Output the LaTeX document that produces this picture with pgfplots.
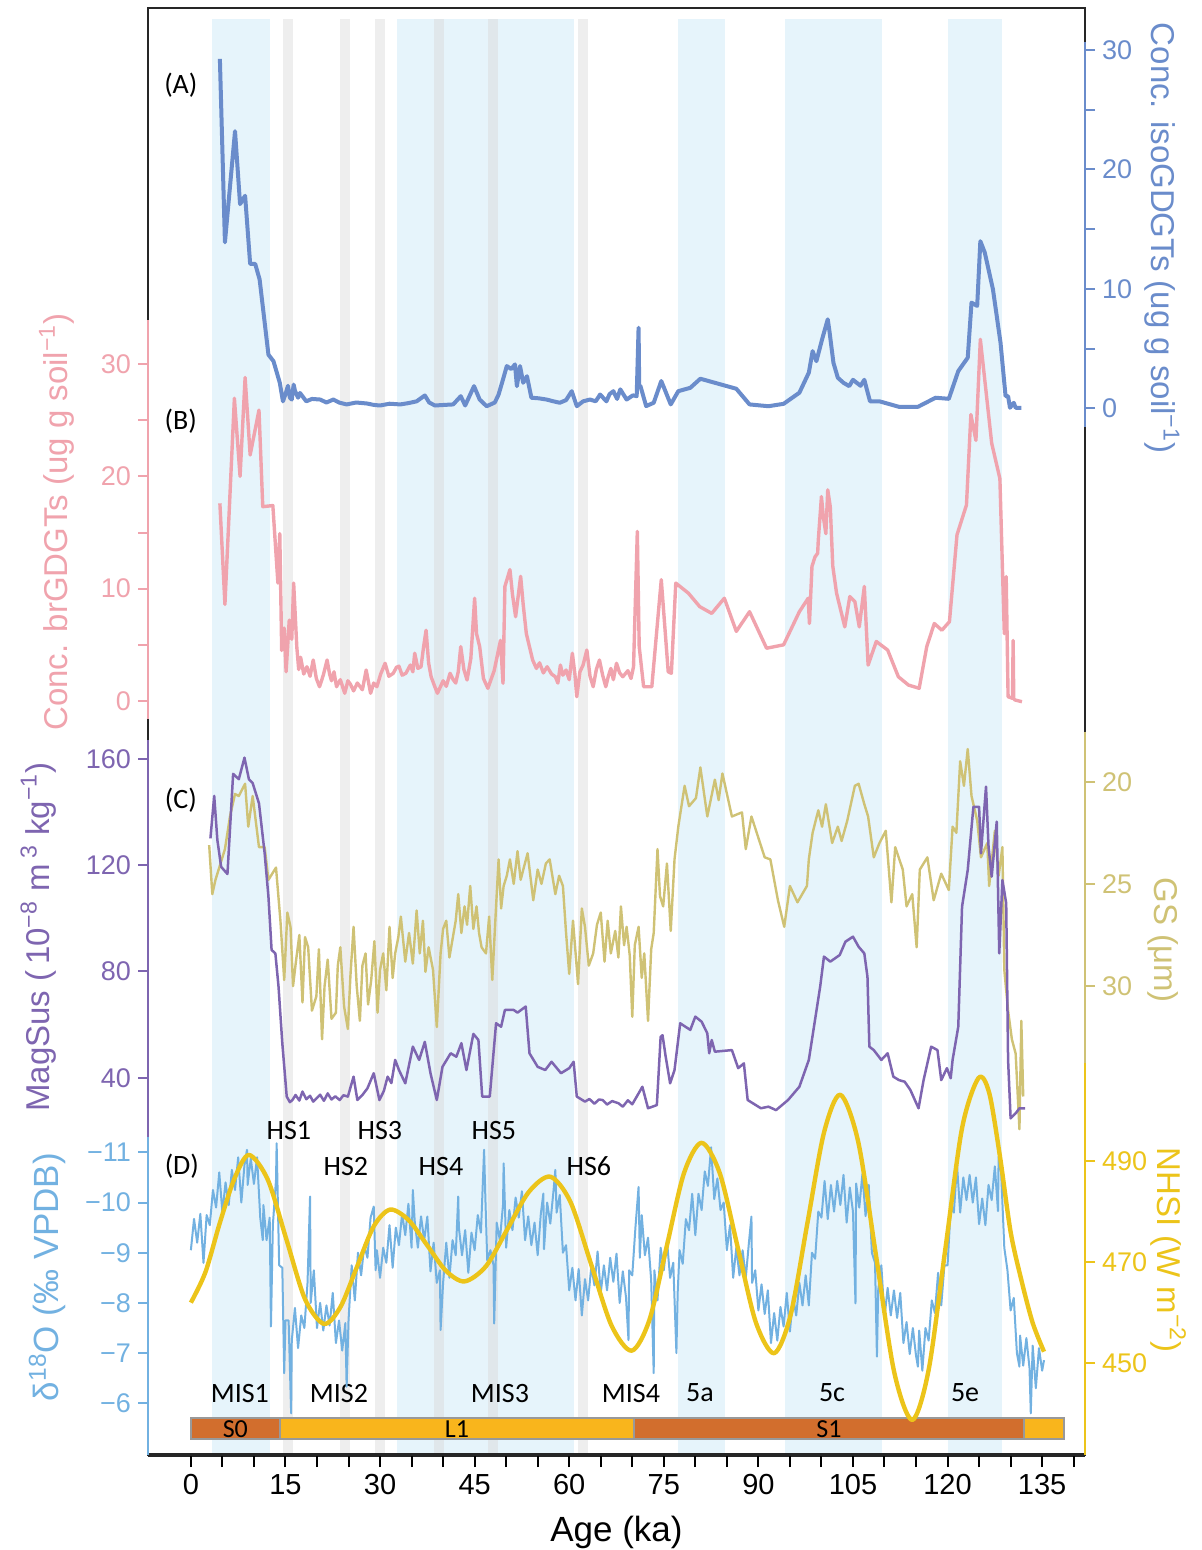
\documentclass[border=0pt]{standalone}
\usepackage{fontspec}
\setmainfont{Liberation Sans}
\newfontfamily\annfont{Carlito}
\usepackage{pgfplots}
\pgfplotsset{compat=1.18}
\definecolor{isoC}{HTML}{6A8CCB}
\definecolor{brC}{HTML}{F0A3AD}
\definecolor{msC}{HTML}{7E65B0}
\definecolor{gsC}{HTML}{CFC275}
\definecolor{dC}{HTML}{72B1E1}
\definecolor{nhC}{HTML}{ECC41A}
\definecolor{bandB}{HTML}{E6F4FB}
\definecolor{bandG}{HTML}{D9D9D9}
\definecolor{soilC}{HTML}{D26E2D}
\definecolor{loessC}{HTML}{F9B51C}
\pgfplotsset{
  dax/.style={scale only axis, width=468.5pt, xmin=-6.8, xmax=141.8, clip=false,
    axis x line=none, tick align=outside, major tick length=5pt, minor tick length=5pt,
    /pgf/number format/assume math mode=true,
    yticklabel style={font=\fontsize{13.5}{14}\selectfont},
    every axis plot/.append style={line join=round}},
  dcol/.style={y axis line style={#1, line width=1pt}, every tick/.style={#1, line width=1pt},
    yticklabel style={text=#1}},
}
\newcommand{\lab}{\fontsize{16.5}{18}\selectfont}
\newcommand{\ann}{\annfont\fontsize{14}{16}\selectfont}
\begin{document}
\begin{tikzpicture}
\useasboundingbox (0,0) rectangle (600.5pt,-775pt);
% ---------------- background axis: bands, frame, age axis ----------------
\begin{axis}[scale only axis, width=468.5pt, height=723.5pt,
  at={(74pt,-727.5pt)}, anchor=south west,
  xmin=-6.8, xmax=141.8, ymin=-1455, ymax=-8, clip=false, axis on top,
  axis line style={line width=1pt, black!85},
  xtick={0,15,...,135},
  minor xtick={5,10,20,25,35,40,50,55,65,70,80,85,95,100,110,115,125,130,140},
  xtick pos=bottom, ytick=\empty, tick align=outside,
  major tick length=6pt, minor tick length=6pt,
  every tick/.style={black, line width=1pt},
  /pgf/number format/assume math mode=true,
  xticklabel style={font=\fontsize{14.5}{15}\selectfont},
  xlabel={Age (ka)}, xlabel style={font=\fontsize{17.5}{19}\selectfont, yshift=-4pt}]
% blue bands
\fill[bandB] (axis cs:3.28,-1455) rectangle (axis cs:12.53,-19);
\fill[bandB] (axis cs:32.63,-1455) rectangle (axis cs:60.80,-19);
\fill[bandB] (axis cs:77.33,-1455) rectangle (axis cs:84.69,-19);
\fill[bandB] (axis cs:94.18,-1455) rectangle (axis cs:109.55,-19);
\fill[bandB] (axis cs:120.07,-1455) rectangle (axis cs:128.70,-19);
% grey bands
\fill[bandG, fill opacity=0.45] (axis cs:14.64,-1455) rectangle (axis cs:16.13,-19);
\fill[bandG, fill opacity=0.45] (axis cs:23.64,-1455) rectangle (axis cs:25.22,-19);
\fill[bandG, fill opacity=0.45] (axis cs:29.19,-1455) rectangle (axis cs:30.77,-19);
\fill[bandG, fill opacity=0.45] (axis cs:38.55,-1455) rectangle (axis cs:40.18,-19);
\fill[bandG, fill opacity=0.45] (axis cs:47.07,-1455) rectangle (axis cs:48.65,-19);
\fill[bandG, fill opacity=0.45] (axis cs:61.44,-1455) rectangle (axis cs:63.02,-19);
% stratigraphic bar
\filldraw[fill=soilC, draw=gray!80, line width=1pt] (axis cs:0,-1439.3) rectangle (axis cs:14.1,-1418.3);
\filldraw[fill=loessC, draw=gray!80, line width=1pt] (axis cs:14.1,-1439.3) rectangle (axis cs:70.2,-1418.3);
\filldraw[fill=soilC, draw=gray!80, line width=1pt] (axis cs:70.2,-1439.3) rectangle (axis cs:132.2,-1418.3);
\filldraw[fill=loessC, draw=gray!80, line width=1pt] (axis cs:132.2,-1439.3) rectangle (axis cs:138.5,-1418.3);
\node[font=\annfont\fontsize{13}{14}\selectfont] at (axis cs:7.05,-1429) {S0};
\node[font=\annfont\fontsize{13}{14}\selectfont] at (axis cs:42.2,-1429) {L1};
\node[font=\annfont\fontsize{13}{14}\selectfont] at (axis cs:101.2,-1429) {S1};
% panel letters
\node[font=\ann] at (axis cs:-1.59,-85) {(A)};
\node[font=\ann] at (axis cs:-1.59,-421) {(B)};
\node[font=\ann] at (axis cs:-1.59,-800) {(C)};
\node[font=\ann] at (axis cs:-1.43,-1166) {(D)};
% HS labels
\node[font=\ann] at (axis cs:15.55,-1130) {HS1};
\node[font=\ann] at (axis cs:29.98,-1130) {HS3};
\node[font=\ann] at (axis cs:48.06,-1130) {HS5};
\node[font=\ann] at (axis cs:24.59,-1166) {HS2};
\node[font=\ann] at (axis cs:39.66,-1166) {HS4};
\node[font=\ann] at (axis cs:63.13,-1166) {HS6};
% MIS labels
\node[font=\ann] at (axis cs:7.77,-1393) {MIS1};
\node[font=\ann] at (axis cs:23.48,-1393) {MIS2};
\node[font=\ann] at (axis cs:49.02,-1393) {MIS3};
\node[font=\ann] at (axis cs:69.8,-1393) {MIS4};
\node[font=\ann] at (axis cs:80.74,-1393) {5a};
\node[font=\ann] at (axis cs:101.68,-1393) {5c};
\node[font=\ann] at (axis cs:122.78,-1393) {5e};
% axis titles
\node[rotate=90, font=\lab, text=brC] at (axis cs:-21.3,-522) {Conc. brGDGTs (ug g soil\textsuperscript{−1})};
\node[rotate=90, font=\lab, text=msC] at (axis cs:-24.2,-937) {MagSus (\,10\textsuperscript{−8} m\,\textsuperscript{3} kg\textsuperscript{−1})};
\node[rotate=90, font=\fontsize{17.5}{19}\selectfont, text=dC] at (axis cs:-22.8,-1277) {δ\textsuperscript{18}O (‰ VPDB)};
\node[rotate=-90, font=\lab, text=isoC] at (axis cs:154.0,-238) {Conc. isoGDGTs (ug g soil\textsuperscript{−1})};
\node[rotate=-90, font=\lab, text=gsC] at (axis cs:154.2,-940) {GS (μm)};
\node[rotate=-90, font=\lab, text=nhC] at (axis cs:155.0,-1250) {NHSI (W m\textsuperscript{−2})};
\draw[line width=1.6pt, black!85] (rel axis cs:0,0) -- (rel axis cs:1,0);
\end{axis}
% ---------------- (A) isoGDGTs ----------------
\begin{axis}[dax, dcol=isoC, height=192.5pt, at={(74pt,-213.35pt)}, anchor=south west,
  axis y line*=right, ymin=-1.523, ymax=30.69,
  ytick={0,10,20,30}, minor ytick={5,15,25}]
\addplot[isoC, line width=2pt] coordinates {
(4.6,29.25)(5.4,13.9)(7.0,23.2)(7.8,17.1)(8.6,17.8)(9.4,12.1)(10.2,12.1)(10.9,10.8)(12.3,4.5)(13.1,3.96)(14.1,2.15)(14.6,0.6)(15.0,1.2)(15.4,1.9)(15.7,0.9)(16.0,0.75)(16.3,2.0)(16.5,1.5)(17.0,0.9)(17.3,1.3)(18.3,0.6)(19.2,0.8)(20.5,0.75)(21.5,0.5)(22.6,0.75)(23.5,0.5)(24.7,0.34)(26.2,0.5)(27.9,0.42)(29.0,0.3)(30.0,0.25)(31.5,0.4)(33.2,0.34)(34.5,0.45)(35.8,0.6)(37.1,1.09)(37.8,0.5)(38.7,0.25)(40.2,0.3)(41.6,0.34)(42.8,1.03)(43.5,0.25)(44.9,1.87)(45.8,0.75)(46.9,0.19)(48.2,0.5)(48.8,1.17)(49.5,2.43)(50.1,3.55)(50.8,3.3)(51.4,3.69)(51.7,1.87)(52.2,3.55)(52.7,2.15)(53.3,2.7)(54.0,0.9)(55.2,0.85)(56.4,0.75)(57.5,0.6)(58.5,0.48)(59.5,0.7)(60.4,1.45)(61.2,0.19)(62.2,0.6)(63.3,0.75)(64.2,0.6)(64.9,1.17)(65.9,0.6)(66.4,1.2)(67.0,1.45)(67.6,0.8)(68.1,1.6)(69.1,0.75)(70.1,1.1)(70.7,1.03)(71.0,6.76)(71.1,1.8)(71.3,1.87)(72.2,0.2)(73.4,0.48)(74.6,2.3)(76.1,0.34)(77.3,1.45)(79.2,1.73)(80.8,2.49)(86.5,1.65)(88.6,0.34)(91.6,0.19)(94.0,0.39)(96.5,1.32)(98.0,3.0)(98.6,4.8)(99.2,3.96)(100.1,5.78)(101.0,7.46)(101.3,6.35)(101.9,3.83)(102.6,2.57)(103.5,2.15)(104.4,1.87)(105.0,2.4)(106.2,1.9)(106.8,2.4)(107.7,0.6)(109.2,0.6)(112.3,0.14)(115.3,0.14)(118.1,0.9)(120.2,0.81)(121.7,3.13)(123.2,4.25)(123.8,8.86)(124.7,8.58)(125.2,14.0)(125.9,13.05)(127.2,9.97)(128.4,5.5)(129.2,1.03)(129.6,1.03)(129.9,0.06)(130.5,0.48)(130.8,0.06)(131.7,0.06)};
\end{axis}
% ---------------- (B) brGDGTs ----------------
\begin{axis}[dax, dcol=brC, height=199.5pt, at={(74pt,-359.5pt)}, anchor=south west,
  axis y line*=left, ymin=-1.602, ymax=33.92,
  ytick={0,10,20,30}, minor ytick={5,15,25}]
\addplot[brC, line width=1.7pt] coordinates {
(4.6,17.6)(5.4,8.6)(6.9,26.95)(7.8,20.0)(8.6,28.8)(9.4,21.9)(10.8,25.9)(11.4,17.3)(13.0,17.4)(13.8,10.5)(14.1,14.9)(14.4,4.5)(14.8,6.5)(15.1,2.6)(15.6,7.2)(16.0,5.5)(16.3,10.5)(16.8,4.8)(17.1,2.8)(17.4,3.9)(17.9,2.4)(18.4,3.05)(18.9,2.2)(19.4,3.65)(19.9,2.0)(20.4,1.27)(21.0,2.3)(21.6,3.65)(22.0,2.4)(22.3,1.8)(22.7,2.6)(23.1,1.27)(23.7,1.9)(24.4,0.69)(24.9,1.8)(25.3,1.5)(25.8,0.9)(26.4,1.6)(27.2,1.0)(27.8,2.76)(28.5,0.69)(29.0,1.6)(29.5,1.27)(30.1,2.4)(30.8,3.36)(31.4,2.2)(32.1,2.47)(32.6,3.0)(33.0,3.1)(33.5,2.3)(34.1,2.47)(34.8,3.2)(35.2,2.6)(35.5,4.25)(36.0,2.9)(36.5,3.05)(36.9,4.8)(37.3,6.3)(37.7,3.4)(38.1,2.16)(38.6,1.4)(39.1,0.69)(39.6,1.3)(40.0,1.8)(40.5,1.3)(41.1,2.47)(41.6,1.9)(42.0,1.6)(42.4,2.6)(42.8,4.84)(43.3,2.8)(43.8,1.87)(44.4,3.8)(45.0,9.15)(45.3,6.0)(45.8,4.84)(46.4,2.0)(47.1,1.13)(48.1,2.7)(49.1,5.4)(49.5,1.58)(49.8,10.2)(50.6,11.7)(51.0,9.5)(51.5,7.5)(52.3,11.1)(52.7,8.6)(53.2,6.0)(54.2,3.65)(54.8,2.9)(55.3,3.4)(55.9,2.5)(56.5,3.05)(57.2,2.4)(57.8,2.16)(58.2,1.6)(58.6,3.2)(59.0,2.3)(59.5,2.76)(60.0,1.9)(60.5,4.25)(60.9,2.4)(61.2,0.38)(61.7,2.6)(62.2,3.2)(62.8,4.54)(63.3,2.2)(63.8,1.27)(64.3,2.8)(64.8,3.65)(65.3,2.3)(65.8,1.27)(66.2,2.2)(66.6,2.9)(67.0,1.9)(67.5,3.36)(68.0,2.5)(68.5,2.16)(69.3,2.7)(69.8,2.0)(70.2,3.05)(70.8,15.1)(71.1,4.84)(71.8,1.27)(73.1,1.27)(74.6,10.8)(75.7,2.6)(76.2,2.47)(76.9,10.5)(78.9,9.6)(80.7,8.4)(82.6,7.8)(84.6,9.15)(86.5,6.2)(88.6,7.95)(91.3,4.7)(94.0,5.0)(96.5,7.95)(97.9,9.15)(98.1,6.9)(98.5,12.0)(99.0,12.85)(99.4,13.15)(99.5,14.3)(100.0,18.2)(100.3,16.4)(100.7,14.9)(101.0,18.8)(101.4,17.3)(101.8,12.0)(102.4,9.6)(103.7,6.6)(104.5,9.3)(105.3,8.85)(106.0,6.6)(106.8,10.2)(107.4,3.2)(108.7,5.3)(110.5,4.54)(112.2,2.16)(113.8,1.42)(115.5,1.13)(116.7,4.84)(117.9,6.9)(119.1,6.3)(120.3,7.06)(121.5,14.8)(123.0,17.45)(123.7,25.5)(124.5,23.2)(125.2,32.2)(127.0,22.95)(128.3,19.8)(129.0,6.0)(129.3,11.07)(129.6,0.38)(130.3,0.24)(130.4,5.4)(130.5,0.2)(130.7,0.09)(131.8,-0.06)};
\end{axis}
% ---------------- (C) GS ----------------
\begin{axis}[dax, dcol=gsC, height=165.65pt, at={(74pt,-531.5pt)}, anchor=south west,
  axis y line*=right, y dir=reverse, ymin=17.554, ymax=33.762,
  ytick={20,25,30,35}]
\addplot[gsC, line width=1.2pt] coordinates {
(2.9,23.1)(3.4,25.5)(3.9,24.8)(4.5,24.2)(5.4,23.3)(6.2,21.7)(7.0,20.6)(7.6,20.7)(8.6,20.1)(9.1,22.2)(9.8,20.7)(10.8,23.2)(11.7,23.2)(12.3,24.8)(13.5,24.2)(14.2,26.8)(14.8,29.7)(15.3,26.4)(15.8,27.1)(16.2,30.0)(16.7,28.7)(17.2,27.5)(17.7,30.8)(18.1,27.6)(18.6,28.1)(19.2,31.2)(19.9,30.5)(20.3,28.2)(20.8,32.6)(21.2,30.0)(21.7,28.7)(22.3,31.6)(23.0,31.3)(23.3,29.0)(23.7,28.1)(24.3,31.0)(24.9,32.1)(25.3,29.5)(25.8,27.1)(26.3,30.0)(26.8,31.7)(27.2,29.0)(27.7,28.4)(28.1,30.9)(28.6,29.7)(29.1,27.8)(29.6,31.3)(30.0,29.2)(30.5,28.4)(31.0,30.2)(31.5,27.1)(32.0,29.6)(32.4,28.4)(32.9,27.6)(33.3,26.6)(34.0,28.8)(34.6,27.4)(35.2,28.9)(35.8,26.3)(36.3,28.4)(36.8,26.8)(37.2,29.3)(37.7,28.1)(38.4,29.2)(39.0,32.0)(39.6,28.4)(40.0,27.2)(40.5,26.8)(41.0,28.6)(41.5,27.7)(42.0,26.8)(42.4,25.5)(42.9,27.4)(43.4,26.1)(43.8,27.0)(44.3,25.1)(44.8,27.2)(45.3,26.1)(45.7,27.4)(46.1,28.1)(46.8,28.4)(47.3,26.6)(47.8,29.7)(48.4,26.1)(48.8,23.8)(49.2,26.2)(49.6,25.1)(50.1,24.6)(50.6,23.8)(51.2,25.0)(51.8,23.4)(52.3,24.8)(52.8,24.2)(53.4,23.5)(54.3,25.8)(55.0,24.3)(55.6,25.0)(56.3,24.0)(56.9,23.8)(57.8,25.5)(58.4,24.6)(59.0,25.1)(59.5,27.4)(60.0,29.4)(60.6,26.8)(61.4,29.9)(62.0,26.2)(62.5,27.1)(63.1,29.0)(63.8,28.4)(64.4,27.0)(65.0,26.4)(65.6,28.8)(66.1,26.8)(66.6,28.4)(67.3,27.3)(67.8,28.6)(68.2,26.1)(68.7,28.0)(69.1,27.1)(69.6,28.5)(70.0,31.5)(70.4,28.0)(71.0,27.1)(71.5,29.6)(71.9,28.4)(72.5,31.7)(73.0,28.2)(73.4,27.4)(74.0,23.3)(74.4,25.6)(74.9,26.1)(75.5,24.0)(76.1,27.3)(76.7,23.8)(77.3,22.2)(78.3,20.2)(79.0,21.2)(80.1,20.8)(80.8,19.3)(81.9,21.7)(83.1,19.9)(83.7,20.9)(84.3,19.6)(85.8,21.7)(87.4,21.5)(88.0,23.3)(88.9,21.7)(91.0,23.7)(91.9,23.8)(93.1,25.8)(94.1,27.1)(95.0,25.1)(96.2,25.9)(97.7,25.1)(98.0,23.8)(98.6,22.5)(99.5,21.4)(100.1,22.2)(100.7,21.1)(101.7,23.0)(102.6,22.2)(103.2,22.9)(104.1,21.9)(105.3,20.2)(105.9,20.1)(106.8,21.1)(107.4,21.7)(108.3,23.7)(109.2,23.0)(110.2,22.4)(111.1,25.9)(111.7,23.2)(112.9,24.3)(113.5,26.1)(114.4,25.5)(115.1,28.1)(115.6,24.3)(116.8,23.7)(117.8,25.8)(119.0,24.5)(120.2,25.3)(120.8,22.2)(121.4,22.5)(122.0,19.0)(122.6,20.2)(123.2,18.4)(123.8,20.7)(124.7,21.9)(125.3,23.7)(126.3,23.0)(126.6,25.1)(127.5,22.4)(128.1,24.6)(128.7,23.2)(129.0,29.2)(129.6,31.2)(130.2,32.6)(130.8,33.3)(131.4,37.0)(131.7,31.7)(132.0,35.4)};
\end{axis}
% ---------------- (C) MagSus ----------------
\begin{axis}[dax, dcol=msC, height=198.35pt, at={(74pt,-568.35pt)}, anchor=south west,
  axis y line*=left, ymin=17.79, ymax=167.15,
  ytick={40,80,120,160}]
\addplot[msC, line width=1.25pt] coordinates {
(3.1,130.1)(3.7,146.1)(4.2,129.5)(4.8,119.4)(5.8,116.7)(6.7,154.4)(7.6,152.4)(8.5,160.5)(9.2,152.4)(9.8,150.9)(10.8,143.3)(11.7,124.5)(12.3,108.2)(12.8,88.1)(13.4,86.8)(13.9,74.3)(14.5,53.0)(15.2,32.9)(15.7,30.8)(16.1,31.6)(16.6,33.5)(17.2,31.4)(17.7,34.8)(18.3,31.9)(18.9,33.2)(19.4,31.0)(19.9,32.2)(20.5,33.6)(21.1,31.3)(21.7,34.1)(22.3,31.8)(22.9,33.0)(23.6,31.6)(24.2,33.4)(24.9,32.9)(25.8,40.4)(26.4,31.6)(27.2,33.5)(28.0,36.0)(29.0,41.7)(29.9,31.6)(30.6,35.0)(31.2,40.4)(31.8,38.0)(32.4,46.7)(33.0,42.9)(34.0,37.9)(35.2,51.7)(36.2,46.7)(37.1,53.5)(38.0,41.7)(39.0,31.6)(39.9,44.1)(41.2,49.2)(42.1,47.9)(42.9,53.0)(43.7,42.9)(44.8,56.5)(45.6,54.2)(46.2,32.9)(47.4,32.9)(48.4,60.5)(49.2,59.2)(49.8,65.5)(51.2,65.5)(51.8,64.5)(53.1,66.8)(53.7,49.2)(55.0,44.1)(56.2,42.9)(57.2,46.0)(58.7,41.7)(60.0,43.6)(60.7,46.0)(61.2,32.9)(62.5,31.0)(63.2,32.0)(64.0,30.2)(64.7,31.8)(65.3,31.6)(66.0,29.9)(66.8,31.2)(67.8,30.4)(68.5,29.1)(69.3,31.5)(70.0,30.0)(71.0,34.1)(71.6,36.6)(72.5,28.5)(73.9,29.7)(74.5,55.4)(74.8,56.0)(75.3,47.9)(76.0,37.9)(76.7,42.9)(77.6,60.5)(79.2,58.0)(80.0,63.0)(81.0,61.1)(81.9,56.7)(82.2,49.2)(82.6,54.2)(83.1,49.8)(85.8,50.4)(86.8,43.6)(87.7,45.4)(88.3,31.6)(90.4,28.5)(91.6,29.1)(92.8,27.8)(94.7,31.6)(96.5,36.6)(98.0,46.7)(98.9,60.5)(99.8,74.3)(100.4,85.6)(101.4,83.7)(102.9,86.2)(103.8,91.2)(105.0,93.1)(105.9,89.3)(106.8,86.8)(107.3,78.0)(107.6,51.7)(108.3,50.4)(109.5,46.7)(110.5,49.2)(111.4,40.4)(112.3,39.1)(113.2,38.5)(114.1,35.4)(115.4,28.5)(116.2,39.1)(117.4,51.7)(118.4,50.4)(119.0,39.1)(119.9,43.6)(120.5,39.8)(120.8,46.7)(121.7,59.2)(122.3,104.4)(123.2,118.2)(124.1,142.0)(125.0,142.0)(125.3,124.5)(126.1,149.6)(126.5,127.0)(127.0,115.7)(127.8,136.4)(128.2,86.8)(128.7,114.4)(129.3,105.7)(129.6,46.7)(130.0,24.7)(130.8,26.6)(131.4,28.5)(132.3,28.5)};
\end{axis}
% ---------------- (D) d18O ----------------
\begin{axis}[dax, dcol=dC, height=159.15pt, at={(74pt,-727.5pt)}, anchor=south west,
  axis y line*=left, y dir=reverse, ymin=-11.311, ymax=-4.970,
  ytick={-11,-10,-9,-8,-7,-6}, yticklabels={−11,−10,−9,−8,−7,−6}]
\addplot[dC, line width=1pt] coordinates {
(0,-9.05)(0.5,-9.675)(1,-9.2)(1.5,-9.775)(2,-8.8)(2.5,-9.75)(3,-9.55)(3.5,-10.25)(4,-9.9)(4.5,-10.6)(5,-9.8)(5.5,-10.4)(6,-9.95)(6.5,-10.65)(7,-10.25)(7.5,-10.9)(8,-10.0)(8.5,-10.75)(8.9,-11.05)(9,-10.35)(9.5,-10.88)(10,-10.37)(10.5,-10.9)(11,-9.7)(11.4,-9.25)(11.5,-9.95)(12,-9.25)(12.5,-9.7)(12.7,-7.53)(13,-9.55)(13.5,-10.45)(13.6,-11.18)(14,-8.75)(14.5,-8.7)(14.8,-6.6)(15,-7.65)(15.5,-7.65)(15.9,-5.8)(16,-7.25)(16.5,-7.9)(17,-7.1)(17.5,-7.75)(18,-7.5)(18.5,-8.4)(18.9,-10.12)(19,-8.0)(19.5,-8.65)(20,-7.5)(20.5,-8.0)(21,-7.45)(21.5,-7.95)(22,-7.55)(22.5,-8.2)(23,-7.2)(23.5,-7.65)(24,-7.05)(24.5,-7.6)(24.7,-6.33)(25,-7.65)(25.5,-8.75)(26,-8.05)(26.5,-9.0)(27,-8.55)(27.5,-9.15)(28,-8.9)(28.5,-9.7)(29,-9.92)(29.3,-8.65)(29.5,-9.05)(30,-8.5)(30.5,-9.1)(31,-8.8)(31.5,-9.55)(32,-8.7)(32.5,-9.5)(33,-9.15)(33.5,-9.775)(34,-9.35)(34.5,-9.975)(35,-9.1)(35.2,-10.25)(35.5,-9.625)(36,-9.1)(36.5,-9.725)(37,-9.25)(37.5,-9.72)(38,-8.63)(38.5,-9.2)(39,-8.4)(39.5,-8.65)(39.6,-7.46)(40,-8.4)(40.5,-9.2)(41,-8.5)(41.5,-9.25)(42,-8.95)(42.4,-10.12)(42.5,-9.5)(43,-8.95)(43.5,-9.45)(44,-8.6)(44.5,-9.4)(45,-9.05)(45.5,-9.75)(46,-9.4)(46.5,-11.05)(46.7,-10.1)(47,-8.85)(47.5,-9.05)(48,-8.75)(48.1,-7.59)(48.5,-9.6)(49,-9.25)(49.5,-9.95)(49.6,-10.78)(50,-9.1)(50.5,-9.85)(51,-9.45)(51.5,-10.1)(52,-9.7)(52.5,-10.225)(53,-9.25)(53.5,-9.725)(54,-9.15)(54.5,-9.6)(55,-8.95)(55.5,-9.78)(55.9,-10.18)(56,-9.07)(56.5,-10.0)(57,-9.58)(57.5,-10.22)(57.8,-10.65)(58,-9.8)(58.5,-10.15)(59,-9.0)(59.5,-9.15)(60,-8.25)(60.5,-8.7)(61,-8.05)(61.5,-8.675)(62,-7.75)(62.5,-8.475)(63,-8.05)(63.5,-8.725)(64,-8.35)(64.5,-9.025)(65,-8.2)(65.5,-8.75)(66,-8.25)(66.5,-8.9)(67,-8.42)(67.5,-8.98)(68,-8.0)(68.5,-8.63)(69,-8.12)(69.4,-7.26)(69.5,-8.65)(70,-8.55)(70.5,-9.5)(71,-10.31)(71.2,-8.9)(71.5,-9.75)(72,-8.95)(72.5,-9.3)(73,-8.45)(73.4,-6.6)(73.5,-8.65)(74,-8.05)(74.5,-9.1)(75,-8.65)(75.5,-9.25)(76,-8.5)(76.5,-8.8)(77,-7.0)(77.2,-8.2)(77.5,-9.05)(78,-8.78)(78.5,-9.67)(79,-9.45)(79.5,-10.175)(80,-9.35)(80.5,-10.175)(81,-9.85)(81.5,-10.62)(82,-10.33)(82.5,-11.1)(83,-10.07)(83.5,-10.48)(84,-9.85)(84.5,-10.0)(85,-9.05)(85.5,-9.55)(86,-8.5)(86.5,-9.1)(87,-8.55)(87.5,-9.05)(88,-8.5)(88.5,-9.2)(88.9,-9.72)(89,-8.4)(89.5,-8.65)(90,-7.85)(90.5,-8.37)(91,-7.78)(91.5,-8.25)(92,-7.2)(92.5,-7.8)(93,-7.25)(93.5,-7.92)(94,-7.53)(94.5,-8.2)(95,-7.43)(95.5,-8.12)(96,-7.75)(96.5,-8.4)(97,-7.95)(97.5,-8.55)(98,-7.95)(98.5,-9.0)(99,-8.88)(99.5,-9.82)(100,-9.7)(100.5,-10.43)(101,-9.67)(101.5,-10.35)(102,-9.82)(102.5,-10.43)(103,-9.95)(103.5,-10.55)(104,-9.6)(104.5,-10.3)(105,-9.82)(105.4,-7.99)(105.5,-10.38)(106,-9.9)(106.5,-10.57)(107,-9.73)(107.5,-10.35)(108,-9.0)(108.5,-8.8)(108.8,-6.93)(109,-8.25)(109.5,-8.75)(110,-7.7)(110.5,-8.3)(111,-7.75)(111.5,-8.25)(112,-7.7)(112.5,-8.2)(113,-7.2)(113.5,-7.62)(114,-6.98)(114.5,-7.5)(115,-6.95)(115.3,-6.73)(115.5,-7.45)(116,-6.65)(116.5,-7.5)(117,-7.25)(117.5,-8.05)(118,-7.8)(118.5,-8.6)(119,-7.95)(119.5,-8.75)(120,-8.75)(120.5,-9.9)(121,-9.8)(121.5,-10.75)(122,-9.8)(122.5,-10.5)(123,-10.05)(123.5,-10.55)(124,-10.0)(124.5,-10.5)(125,-9.57)(125.5,-10.08)(126,-9.55)(126.5,-10.35)(127,-10.05)(127.5,-10.72)(128,-9.83)(128.1,-10.91)(128.5,-10.6)(129,-9.1)(129.5,-8.65)(130,-7.85)(130.5,-8.1)(131,-7.0)(131.4,-6.73)(131.5,-7.35)(132,-6.75)(132.5,-7.3)(133,-6.7)(133.2,-5.8)(133.5,-7.15)(134,-6.3)(134.5,-7.1)(135,-6.65)(135.3,-6.86)};
\end{axis}
% ---------------- (D) NHSI ----------------
\begin{axis}[dax, dcol=nhC, height=196pt, at={(74pt,-727.5pt)}, anchor=south west,
  axis y line*=right, ymin=431.87, ymax=509.38,
  ytick={450,470,490}]
\addplot[nhC, line width=2.2pt, smooth] coordinates {
(0,462.0)(2.3,468)(4.6,477.8)(6.9,486.5)(9.2,491.2)(12.2,486.3)(15.15,474.5)(18.1,462.7)(21.1,457.8)(23.7,461.1)(26.35,469.1)(29.0,477.1)(31.6,480.4)(34.55,478.3)(37.5,473.3)(40.45,468.3)(43.4,466.2)(46.8,469.2)(50.2,476.55)(53.6,483.9)(57.0,486.9)(60.2,481.9)(63.45,469.7)(66.7,457.5)(69.9,452.5)(72.7,458.5)(75.45,473.05)(78.2,487.6)(81.0,493.6)(83.9,487.5)(86.75,472.8)(89.6,458.1)(92.5,452.0)(95.1,459.5)(97.75,477.55)(100.4,495.6)(103.0,503.1)(105.85,493.7)(108.7,470.95)(111.55,448.2)(114.4,438.8)(117.0,448.7)(119.65,472.6)(122.3,496.5)(124.9,506.4)(126.6,503.5)(128.3,491)(130,476)(131.7,466.5)(133.5,458)(135.3,452.3)};
\end{axis}
\end{tikzpicture}
\end{document}
